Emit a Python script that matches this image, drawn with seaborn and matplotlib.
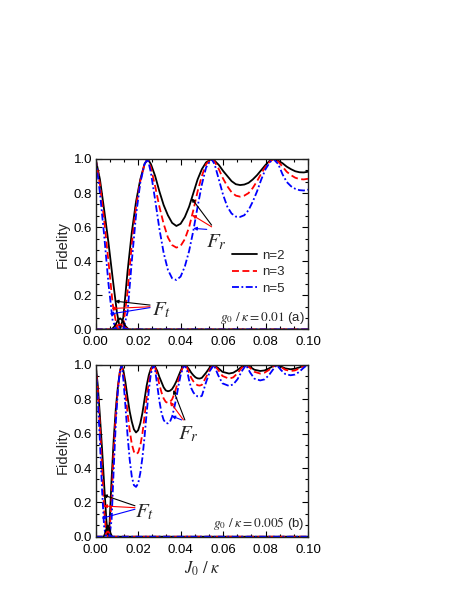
import matplotlib
matplotlib.use("Agg")
import matplotlib.pyplot as plt
import seaborn as sns
from matplotlib.ticker import MultipleLocator, AutoMinorLocator, FormatStrFormatter

# ---------------- data ----------------
series_names = ["n=2", "n=3", "n=5"]

# panel (a): g0/kappa = 0.01, reflection fidelity F_r
x_a = [0, 0.002, 0.004, 0.006, 0.008, 0.010, 0.0115, 0.013, 0.015, 0.017, 0.019, 0.021, 0.023, 0.0245,
       0.026, 0.028, 0.030, 0.032, 0.034, 0.036, 0.038, 0.040, 0.042, 0.044, 0.046, 0.048, 0.050, 0.052, 0.0545,
       0.056, 0.058, 0.060, 0.062, 0.064, 0.066, 0.068, 0.070, 0.072, 0.074, 0.076, 0.078, 0.080, 0.082, 0.0837,
       0.086, 0.088, 0.090, 0.092, 0.094, 0.096, 0.098, 0.100]
fr_a_n2 = [1.0, 0.88, 0.70, 0.51, 0.30, 0.10, 0.0, 0.07, 0.34, 0.57, 0.75, 0.88, 0.97, 1.0,
           0.97, 0.90, 0.81, 0.73, 0.67, 0.625, 0.607, 0.62, 0.66, 0.72, 0.80, 0.88, 0.94, 0.98, 1.0,
           0.99, 0.965, 0.93, 0.90, 0.87, 0.852, 0.847, 0.85, 0.86, 0.88, 0.905, 0.935, 0.965, 0.99, 1.0,
           0.99, 0.975, 0.955, 0.94, 0.928, 0.922, 0.921, 0.925]
fr_a_n3 = [1.0, 0.85, 0.64, 0.40, 0.15, 0.01, 0.0, 0.02, 0.22, 0.50, 0.72, 0.87, 0.97, 1.0,
           0.95, 0.84, 0.72, 0.62, 0.54, 0.495, 0.48, 0.49, 0.53, 0.60, 0.70, 0.81, 0.90, 0.97, 1.0,
           0.985, 0.94, 0.885, 0.84, 0.805, 0.785, 0.779, 0.785, 0.80, 0.83, 0.87, 0.915, 0.955, 0.985, 1.0,
           0.985, 0.955, 0.925, 0.905, 0.89, 0.882, 0.88, 0.884]
fr_a_n5 = [1.0, 0.80, 0.55, 0.27, 0.05, 0.0, 0.0, 0.0, 0.10, 0.40, 0.67, 0.86, 0.97, 1.0,
           0.92, 0.76, 0.59, 0.45, 0.35, 0.30, 0.29, 0.31, 0.37, 0.46, 0.58, 0.72, 0.85, 0.95, 1.0,
           0.97, 0.88, 0.79, 0.72, 0.68, 0.662, 0.66, 0.67, 0.70, 0.75, 0.81, 0.88, 0.94, 0.98, 1.0,
           0.97, 0.91, 0.865, 0.84, 0.825, 0.817, 0.815, 0.82]
# panel (a): transmission fidelity F_t
xt_a = [0, 0.0075, 0.009, 0.0105, 0.0115, 0.0125, 0.014, 0.0155, 0.1]
ft_a_n2 = [0, 0, 0.02, 0.055, 0.065, 0.055, 0.02, 0, 0]
ft_a_n3 = [0, 0, 0.01, 0.025, 0.03, 0.025, 0.01, 0, 0]
ft_a_n5 = [0, 0, 0.005, 0.012, 0.015, 0.012, 0.005, 0, 0]

# panel (b): g0/kappa = 0.005, reflection fidelity F_r
x_b = [0, 0.001, 0.002, 0.003, 0.004, 0.005, 0.00575, 0.0065, 0.0075, 0.0085, 0.0095, 0.0105, 0.0115, 0.01225,
       0.013, 0.014, 0.015, 0.016, 0.017, 0.018, 0.019, 0.020, 0.021, 0.022, 0.023, 0.024, 0.025, 0.026, 0.02725,
       0.028, 0.029, 0.030, 0.031, 0.032, 0.033, 0.034, 0.035, 0.036, 0.037, 0.038, 0.039, 0.040, 0.041, 0.04185,
       0.043, 0.044, 0.045, 0.046, 0.047, 0.048, 0.049, 0.050,
       0.052, 0.054, 0.0557, 0.0577, 0.0597, 0.0628, 0.0648, 0.0668, 0.0688, 0.0708, 0.0728, 0.0748, 0.0775,
       0.0795, 0.0815, 0.0835, 0.0853, 0.0873, 0.0893, 0.0918, 0.0938, 0.0958, 0.0978, 0.0996, 0.1]
fr_b_n2 = [1.0, 0.88, 0.70, 0.51, 0.30, 0.10, 0.0, 0.07, 0.34, 0.57, 0.75, 0.88, 0.97, 1.0,
           0.97, 0.90, 0.81, 0.73, 0.67, 0.625, 0.607, 0.62, 0.66, 0.72, 0.80, 0.88, 0.94, 0.98, 1.0,
           0.99, 0.965, 0.93, 0.90, 0.87, 0.852, 0.847, 0.85, 0.86, 0.88, 0.905, 0.935, 0.965, 0.99, 1.0,
           0.99, 0.975, 0.955, 0.94, 0.928, 0.922, 0.921, 0.925,
           0.955, 0.99, 1.0, 0.982, 0.96, 0.95, 0.955, 0.97, 0.99, 1.0, 0.988, 0.972, 0.965,
           0.968, 0.979, 0.993, 1.0, 0.991, 0.98, 0.975, 0.978, 0.985, 0.995, 1.0, 1.0]
fr_b_n3 = [1.0, 0.85, 0.64, 0.40, 0.15, 0.01, 0.0, 0.02, 0.22, 0.50, 0.72, 0.87, 0.97, 1.0,
           0.95, 0.84, 0.72, 0.62, 0.54, 0.495, 0.48, 0.49, 0.53, 0.60, 0.70, 0.81, 0.90, 0.97, 1.0,
           0.985, 0.94, 0.885, 0.84, 0.805, 0.785, 0.779, 0.785, 0.80, 0.83, 0.87, 0.915, 0.955, 0.985, 1.0,
           0.985, 0.955, 0.925, 0.905, 0.89, 0.882, 0.88, 0.884,
           0.93, 0.98, 1.0, 0.972, 0.936, 0.92, 0.928, 0.952, 0.984, 1.0, 0.982, 0.96, 0.95,
           0.955, 0.97, 0.99, 1.0, 0.988, 0.972, 0.965, 0.968, 0.979, 0.993, 1.0, 1.0]
fr_b_n5 = [1.0, 0.80, 0.55, 0.27, 0.05, 0.0, 0.0, 0.0, 0.10, 0.40, 0.67, 0.86, 0.97, 1.0,
           0.92, 0.76, 0.59, 0.45, 0.35, 0.30, 0.29, 0.31, 0.37, 0.46, 0.58, 0.72, 0.85, 0.95, 1.0,
           0.97, 0.88, 0.79, 0.72, 0.68, 0.662, 0.66, 0.67, 0.70, 0.75, 0.81, 0.88, 0.94, 0.98, 1.0,
           0.97, 0.91, 0.865, 0.84, 0.825, 0.817, 0.815, 0.82,
           0.90, 0.97, 1.0, 0.94, 0.893, 0.878, 0.887, 0.917, 0.963, 1.0, 0.955, 0.92, 0.91,
           0.916, 0.939, 0.973, 1.0, 0.97, 0.947, 0.94, 0.944, 0.959, 0.982, 1.0, 1.0]
# panel (b): transmission fidelity F_t
xt_b = [0, 0.00375, 0.0045, 0.00525, 0.00575, 0.00625, 0.007, 0.00775, 0.1]
ft_b_n2 = [0, 0, 0.02, 0.055, 0.065, 0.055, 0.02, 0, 0]
ft_b_n3 = [0, 0, 0.01, 0.025, 0.03, 0.025, 0.01, 0, 0]
ft_b_n5 = [0, 0, 0.005, 0.012, 0.015, 0.012, 0.005, 0, 0]

# ---------------- style ----------------
sns.set_style("ticks")
plt.rcParams["font.family"] = ["Liberation Sans", "DejaVu Sans"]
plt.rcParams["mathtext.fontset"] = "stix"
plt.rcParams["lines.scale_dashes"] = False

colors = ["black", "#ff0000", "#0000ff"]
styles = ["-", (0, (5, 2.5)), (0, (5, 1.8, 1.3, 1.8))]
LW = 1.3

fig = plt.figure(figsize=(4.63, 5.99), dpi=100)
ax_a = fig.add_axes([0.2067, 0.450, 0.4585, 0.2846])
ax_b = fig.add_axes([0.2067, 0.104, 0.4585, 0.2867])


def draw(ax, x, frs, xt, fts):
    for fr, c, ls, name in zip(frs, colors, styles, series_names):
        sns.lineplot(x=x, y=fr, ax=ax, color=c, linestyle=ls, linewidth=LW,
                     estimator=None, sort=False, legend=False, label=name)
    for ft, c, ls in zip(fts, colors, styles):
        sns.lineplot(x=xt, y=ft, ax=ax, color=c, linestyle=ls, linewidth=LW,
                     estimator=None, sort=False, legend=False)
    ax.set_xlim(0, 0.1)
    ax.set_ylim(0, 1.0)
    ax.xaxis.set_major_locator(MultipleLocator(0.02))
    ax.yaxis.set_major_locator(MultipleLocator(0.2))
    ax.xaxis.set_minor_locator(AutoMinorLocator(3))
    ax.yaxis.set_minor_locator(AutoMinorLocator(3))
    ax.xaxis.set_major_formatter(FormatStrFormatter("%.2f"))
    ax.yaxis.set_major_formatter(FormatStrFormatter("%.1f"))
    ax.tick_params(which="both", direction="in", top=True, right=True,
                   labelsize=9.5, width=0.8, colors="black")
    ax.tick_params(axis="y", pad=2.5)
    ax.tick_params(axis="x", pad=5)
    ax.tick_params(which="major", length=4)
    ax.tick_params(which="minor", length=2.2)
    for s in ax.spines.values():
        s.set_linewidth(1.0)
        s.set_color("#222222")
    ax.set_ylabel("Fidelity", fontsize=10.5, labelpad=3)
    ax.set_xlabel("")


def arrow(ax, start, end, c):
    ax.annotate("", xy=end, xytext=start,
                arrowprops=dict(arrowstyle="-|>", color=c, lw=0.8,
                                mutation_scale=5, shrinkA=0, shrinkB=0))


draw(ax_a, x_a, [fr_a_n2, fr_a_n3, fr_a_n5], xt_a, [ft_a_n2, ft_a_n3, ft_a_n5])
draw(ax_b, x_b, [fr_b_n2, fr_b_n3, fr_b_n5], xt_b, [ft_b_n2, ft_b_n3, ft_b_n5])

# legend in panel (a)
handles = ax_a.get_lines()[:3]
ax_a.legend(handles, series_names, loc="center left", bbox_to_anchor=(0.615, 0.335),
            frameon=False, fontsize=9.5, handlelength=1.9, handletextpad=0.4,
            labelspacing=0.32, borderaxespad=0)

# annotations panel (a)
arrow(ax_a, (0.0256, 0.143), (0.0091, 0.166), colors[0])
arrow(ax_a, (0.0256, 0.133), (0.0075, 0.123), colors[1])
arrow(ax_a, (0.0256, 0.128), (0.0066, 0.090), colors[2])
ax_a.text(0.0266, 0.115, r"$F_t$", fontsize=15, ha="left", va="center")
arrow(ax_a, (0.0546, 0.612), (0.0452, 0.769), colors[0])
arrow(ax_a, (0.0546, 0.602), (0.0455, 0.671), colors[1])
arrow(ax_a, (0.0523, 0.587), (0.0460, 0.593), colors[2])
ax_a.text(0.0520, 0.51, r"$F_r$", fontsize=15, ha="left", va="center")
ax_a.text(0.985, 0.065, r"$g_0\ /\ \kappa = 0.01$ (a)", transform=ax_a.transAxes,
          fontsize=9.5, ha="right", va="center")

# annotations panel (b)
arrow(ax_b, (0.0185, 0.180), (0.0036, 0.243), colors[0])
arrow(ax_b, (0.0185, 0.169), (0.0036, 0.179), colors[1])
arrow(ax_b, (0.0185, 0.160), (0.0028, 0.107), colors[2])
ax_b.text(0.0186, 0.145, r"$F_t$", fontsize=15, ha="left", va="center")
arrow(ax_b, (0.0420, 0.680), (0.0366, 0.854), colors[0])
arrow(ax_b, (0.0413, 0.680), (0.0350, 0.786), colors[1])
arrow(ax_b, (0.0405, 0.680), (0.0358, 0.703), colors[2])
ax_b.text(0.0390, 0.595, r"$F_r$", fontsize=15, ha="left", va="center")
ax_b.text(0.985, 0.074, r"$g_0\ /\ \kappa = 0.005$ (b)", transform=ax_b.transAxes,
          fontsize=9.5, ha="right", va="center")
ax_b.set_xlabel(r"$J_0\ /\ \kappa$", fontsize=12, labelpad=3)

fig.savefig("out.png", dpi=100)
